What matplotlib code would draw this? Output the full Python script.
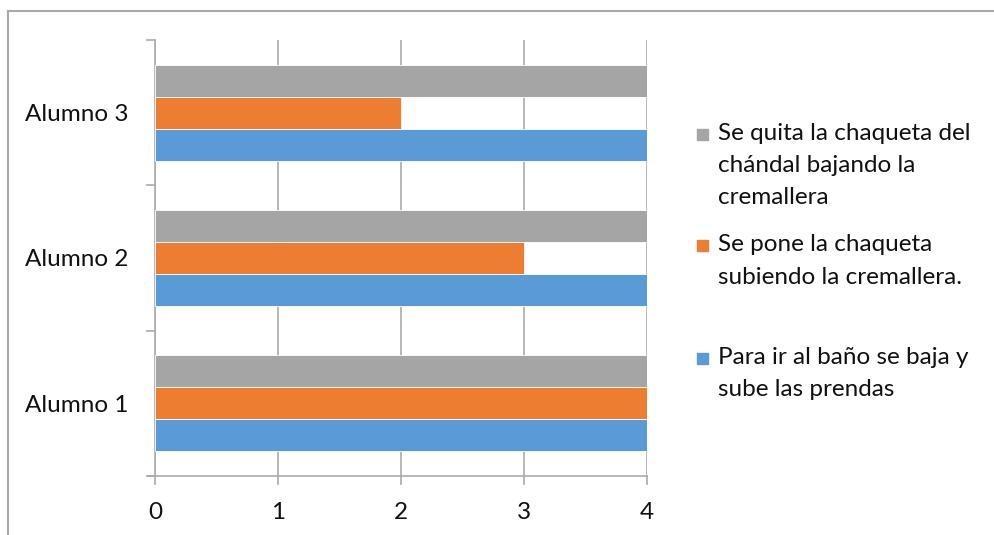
import matplotlib.pyplot as plt
import numpy as np
from matplotlib.lines import Line2D
from matplotlib.patches import Rectangle

plt.rcParams['font.family'] = ['Lato', 'DejaVu Sans']

categories = ["Alumno 1", "Alumno 2", "Alumno 3"]
series_names = [
    "Para ir al baño se baja y\nsube las prendas",
    "Se pone la chaqueta\nsubiendo la cremallera.",
    "Se quita la chaqueta del\nchándal bajando la\ncremallera",
]
series_values = [
    [4, 4, 4],
    [4, 3, 2],
    [4, 4, 4],
]
colors = ["#5B9BD5", "#ED7D31", "#A5A5A5"]
x_ticks = [0, 1, 2, 3, 4]

W, H = 994, 535
FS = 17.5
fig = plt.figure(figsize=(W / 100, H / 100), dpi=100)
ax = fig.add_axes([155 / W, (H - 476) / H, (647 - 155) / W, (476 - 40) / H])

grid_col = "#ABABAB"
bar_h = 0.22
y = np.arange(len(categories))
for i, (vals, col) in enumerate(zip(series_values, colors)):
    ax.barh(y + (i - 1) * bar_h, vals, height=bar_h, color=col,
            edgecolor="white", linewidth=0.6, zorder=3)

ax.set_xlim(0, 4)
ax.set_ylim(-0.5, 2.5)
ax.set_xticks(x_ticks)
ax.set_xticklabels([str(t) for t in x_ticks], fontsize=FS, color="#111111")
ax.set_yticks(y)
ax.set_yticklabels(categories, fontsize=FS, color="#111111")
ax.tick_params(axis="y", length=0, pad=19)
ax.tick_params(axis="x", length=0, pad=18.5)

# category boundary ticks on the left axis
for b in np.arange(-0.5, 3, 1.0):
    ax.add_line(Line2D([-0.016, 0], [b, b], color=grid_col, lw=1.2,
                       transform=ax.get_yaxis_transform(), clip_on=False))
# value ticks below the horizontal axis
for t in x_ticks:
    ax.add_line(Line2D([t, t], [-0.018, 0], color=grid_col, lw=1.2,
                       transform=ax.get_xaxis_transform(), clip_on=False))

ax.grid(axis="x", color=grid_col, lw=1.2, zorder=0)
for s in ["top", "right"]:
    ax.spines[s].set_visible(False)
ax.spines["left"].set_color(grid_col)
ax.spines["left"].set_linewidth(1.2)
ax.spines["bottom"].set_color(grid_col)
ax.spines["bottom"].set_linewidth(1.2)
ax.spines["bottom"].set_bounds(-0.06, 4)

# outer chart border (top and left edges visible)
fig.add_artist(Line2D([8 / W, 1], [1 - 11 / H, 1 - 11 / H], color="#A8A8A8", lw=1.5,
                      transform=fig.transFigure))
fig.add_artist(Line2D([8 / W, 8 / W], [0, 1 - 11 / H], color="#A8A8A8", lw=1.5,
                      transform=fig.transFigure))

# legend entries, top to bottom in reverse series order
legend_tops = [358, 245, 134]
line_step = 32
for name, col, top in zip(series_names, colors, legend_tops):
    fig.add_artist(Rectangle((697 / W, 1 - (top + 6) / H), 11 / W, 11 / H,
                             color=col, transform=fig.transFigure))
    for k, line in enumerate(name.split("\n")):
        fig.text(718 / W, 1 - (top + k * line_step) / H, line, fontsize=FS,
                 va="center", ha="left", color="#111111")

fig.savefig("out.png", dpi=100)
